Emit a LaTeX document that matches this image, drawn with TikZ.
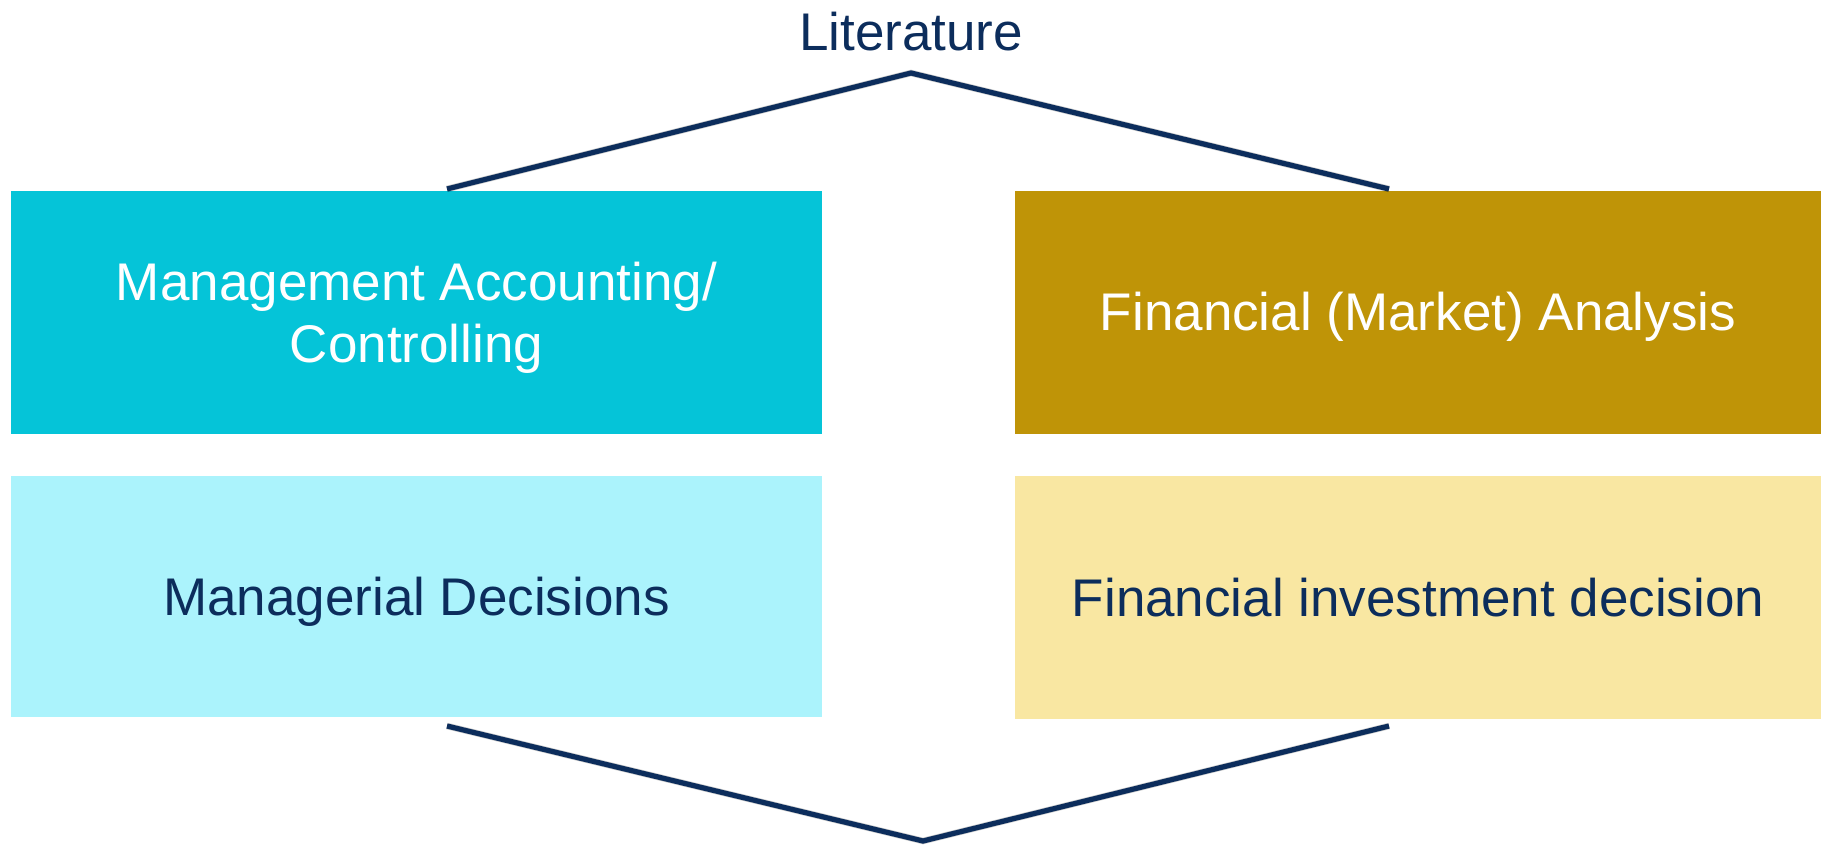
\documentclass[tikz,border=0pt]{standalone}
\usepackage{fontspec}
\setmainfont{Liberation Sans}
\begin{document}
\begin{tikzpicture}[x=1pt,y=-1pt,
  txt/.style={font=\fontsize{53}{62}\selectfont, align=center, inner sep=0pt},
  panel/.style={draw=none, inner sep=0pt, outer sep=0pt, txt,
                text height=38pt, text depth=0pt},
  bracket/.style={draw=navy, line width=5.2pt, line join=miter},
  bracketshadow/.style={draw=black, opacity=0.2, line width=6.5pt}
]
\definecolor{navy}{HTML}{0C2D5C}
\definecolor{teal}{HTML}{05C4D8}
\definecolor{paleteal}{HTML}{ABF3FC}
\definecolor{gold}{HTML}{BF9407}
\definecolor{paleyellow}{HTML}{F9E7A2}

\useasboundingbox (0,0) rectangle (1821,846);

% four panels
\node[panel, fill=teal, minimum width=811pt, minimum height=243pt]
  (mac) at (416.5,312.5) {};
\node[txt, text=white] (mactext) at (416.5,318) {Management Accounting/\\Controlling};
\node[panel, fill=gold, minimum width=806pt, minimum height=243pt]
  (fma) at (1418,312.5) {};
\node[txt, text=white, anchor=base] (fmatext) at (1418,330) {Financial (Market) Analysis};
\node[panel, fill=paleteal, text=navy, minimum width=811pt, minimum height=241pt]
  (md) at (416.5,596.5) {Managerial Decisions};
\node[panel, fill=paleyellow, text=navy, minimum width=806pt, minimum height=243pt]
  (fid) at (1418,597.5) {Financial investment decision};

% heading
\node[txt, text=navy, anchor=base] (lit) at (911,50) {Literature};

% bracket end points
\coordinate (tl) at (447,189);
\coordinate (tapex) at (911,73);
\coordinate (tr) at (1389,189);
\coordinate (bl) at (447,726);
\coordinate (bapex) at (923,841);
\coordinate (br) at (1389,726);

% soft shadows under the brackets
\begin{scope}[shift={(1,4)}]
  \draw[bracketshadow] (tl) -- (tapex) -- (tr);
  \draw[bracketshadow] (bl) -- (bapex) -- (br);
\end{scope}

% brackets joining the panels
\draw[bracket] (tl) -- (tapex) -- (tr);
\draw[bracket] (bl) -- (bapex) -- (br);
\end{tikzpicture}
\end{document}
